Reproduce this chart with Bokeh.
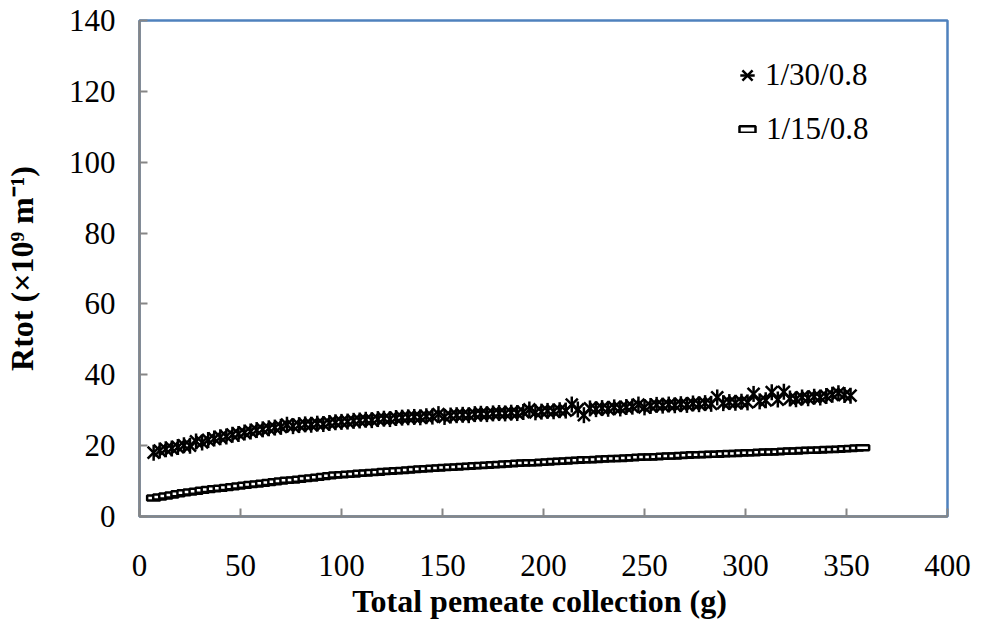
from bokeh.plotting import figure
from bokeh.models import FixedTicker, Range1d, Legend, LegendItem
from bokeh.embed import file_html
from bokeh.resources import INLINE

# ---- data ----
x_30 = [7, 10, 13, 16, 19, 22, 25, 28, 31, 34, 37, 40, 43, 46, 49, 52, 55, 58, 61, 64,
        67, 70, 73, 76, 79, 82, 85, 88, 91, 94, 97, 100, 103, 106, 109, 112, 115, 118, 121, 124,
        127, 130, 133, 136, 139, 142, 145, 148, 151, 154, 157, 160, 163, 166, 169, 172, 175, 178, 181, 184,
        187, 190, 193, 196, 199, 202, 205, 208, 211, 214, 217, 220, 223, 226, 229, 232, 235, 238, 241, 244,
        247, 250, 253, 256, 259, 262, 265, 268, 271, 274, 277, 280, 283, 286, 289, 292, 295, 298, 301, 304,
        307, 310, 313, 316, 319, 322, 325, 328, 331, 334, 337, 340, 343, 346, 349, 352]
y_30 = [18.0, 18.6, 19.0, 19.2, 19.6, 20.1, 20.0, 21.2, 20.9, 21.6, 22.0, 22.4, 22.6, 23.1, 23.3, 23.7, 24.0, 24.4, 24.6, 24.9,
        25.1, 25.3, 25.9, 25.5, 25.8, 26.0, 25.9, 26.2, 26.1, 26.4, 26.6, 26.7, 26.8, 27.0, 27.1, 27.3, 27.2, 27.5, 27.6, 27.5,
        27.8, 27.9, 28.0, 28.1, 28.0, 28.3, 28.2, 28.9, 28.1, 28.5, 28.6, 28.7, 28.6, 28.9, 29.0, 28.9, 29.1, 29.2, 29.1, 29.3,
        29.2, 29.5, 30.2, 29.4, 29.6, 29.8, 29.7, 30.0, 29.9, 31.6, 30.2, 28.6, 30.5, 30.3, 30.6, 30.4, 30.8, 30.5, 30.9, 31.0,
        31.6, 30.8, 31.2, 31.5, 31.3, 31.6, 31.4, 31.7, 31.5, 31.9, 31.7, 32.0, 31.8, 33.6, 32.0, 32.3, 32.1, 32.4, 32.2, 34.6,
        32.5, 32.8, 35.1, 33.0, 35.2, 33.3, 33.1, 33.6, 33.4, 33.8, 33.6, 34.0, 34.4, 34.8, 34.3, 34.1]

x_15 = [7, 10, 13, 16, 19, 22, 25, 28, 31, 34, 37, 40, 43, 46, 49, 52, 55, 58, 61, 64,
        67, 70, 73, 76, 79, 82, 85, 88, 91, 94, 97, 100, 103, 106, 109, 112, 115, 118, 121, 124,
        127, 130, 133, 136, 139, 142, 145, 148, 151, 154, 157, 160, 163, 166, 169, 172, 175, 178, 181, 184,
        187, 190, 193, 196, 199, 202, 205, 208, 211, 214, 217, 220, 223, 226, 229, 232, 235, 238, 241, 244,
        247, 250, 253, 256, 259, 262, 265, 268, 271, 274, 277, 280, 283, 286, 289, 292, 295, 298, 301, 304,
        307, 310, 313, 316, 319, 322, 325, 328, 331, 334, 337, 340, 343, 346, 349, 352, 355, 358]
y_15 = [5.2, 5.5, 5.8, 6.1, 6.4, 6.7, 6.9, 7.1, 7.4, 7.6, 7.8, 8.0, 8.2, 8.4, 8.6, 8.8, 9.0, 9.2, 9.4, 9.6,
        9.8, 10.0, 10.2, 10.3, 10.5, 10.7, 10.9, 11.1, 11.3, 11.5, 11.7, 11.8, 11.9, 12.0, 12.2, 12.3, 12.4, 12.5, 12.7, 12.8,
        12.9, 13.0, 13.1, 13.3, 13.4, 13.5, 13.6, 13.7, 13.8, 13.9, 14.0, 14.1, 14.2, 14.3, 14.4, 14.5, 14.6, 14.7, 14.8, 14.9,
        15.0, 15.1, 15.2, 15.2, 15.3, 15.4, 15.5, 15.6, 15.7, 15.8, 15.9, 16.0, 16.0, 16.1, 16.2, 16.3, 16.4, 16.4, 16.5, 16.6,
        16.7, 16.8, 16.8, 16.9, 17.0, 17.1, 17.1, 17.2, 17.3, 17.4, 17.4, 17.5, 17.6, 17.6, 17.7, 17.8, 17.8, 17.9, 18.0, 18.0,
        18.1, 18.2, 18.2, 18.3, 18.4, 18.5, 18.5, 18.6, 18.7, 18.7, 18.8, 18.9, 18.9, 19.0, 19.1, 19.2, 19.3, 19.4]

x_ticks = [0, 50, 100, 150, 200, 250, 300, 350, 400]
y_ticks = [0, 20, 40, 60, 80, 100, 120, 140]
label_30 = "1/30/0.8"
label_15 = "1/15/0.8"
x_title = "Total pemeate collection  (g)"
y_title = "Rtot (×10⁹ m⁻¹)"

FONT = "Liberation Serif"

p = figure(width=981, height=626, output_backend="svg", toolbar_location=None,
           x_range=Range1d(0, 400), y_range=Range1d(0, 140),
           min_border_left=139, min_border_right=34, min_border_top=20, min_border_bottom=110)
p.background_fill_color = "white"
p.border_fill_color = "white"
p.grid.visible = False
p.outline_line_color = "#4F81BD"
p.outline_line_width = 2.5

# series 1/30/0.8: star marker (x + vertical bar)
r30a = p.scatter(x_30, y_30, marker="x", size=17, line_color="black", line_width=2.5)
r30b = p.scatter(x_30, y_30, marker="dash", angle=1.5707963, size=16, line_color="black", line_width=2.5)
# series 1/15/0.8: small hollow rectangles
r15 = p.rect(x_15, y_15, width=13, height=5, width_units="screen", height_units="screen",
             fill_color="white", line_color="black", line_width=2.5)

for ax in (p.xaxis[0], p.yaxis[0]):
    ax.axis_line_color = "#868686"
    ax.axis_line_width = 2.5
    ax.major_tick_line_color = "#868686"
    ax.major_tick_line_width = 2
    ax.major_tick_in = 8
    ax.major_tick_out = 0
    ax.minor_tick_line_color = None
    ax.major_label_text_font = FONT
    ax.major_label_text_font_size = "31px"
    ax.major_label_text_color = "black"
    ax.axis_label_text_font = FONT
    ax.axis_label_text_font_size = "32px"
    ax.axis_label_text_font_style = "bold"
    ax.axis_label_text_color = "black"

p.xaxis.ticker = FixedTicker(ticks=x_ticks)
p.yaxis.ticker = FixedTicker(ticks=y_ticks)
p.xaxis.axis_label = x_title
p.yaxis.axis_label = y_title
p.xaxis.major_label_standoff = 38
p.xaxis.axis_label_standoff = 4
p.yaxis.major_label_standoff = 24
p.yaxis.axis_label_standoff = 26

leg1 = Legend(items=[LegendItem(label=label_30, renderers=[r30a, r30b])],
              location=(590, 423), padding=0, margin=0, spacing=0,
              glyph_width=36, glyph_height=36, label_standoff=0,
              label_text_font=FONT, label_text_font_size="31px", label_text_color="black",
              border_line_color=None, background_fill_alpha=0)
leg2 = Legend(items=[LegendItem(label=label_15, renderers=[r15])],
              location=(598, 369), padding=0, margin=0, spacing=0,
              glyph_width=20, glyph_height=8, label_standoff=9,
              label_text_font=FONT, label_text_font_size="31px", label_text_color="black",
              border_line_color=None, background_fill_alpha=0)
p.add_layout(leg1)
p.add_layout(leg2)

open("out.html", "w").write(file_html(p, INLINE))
